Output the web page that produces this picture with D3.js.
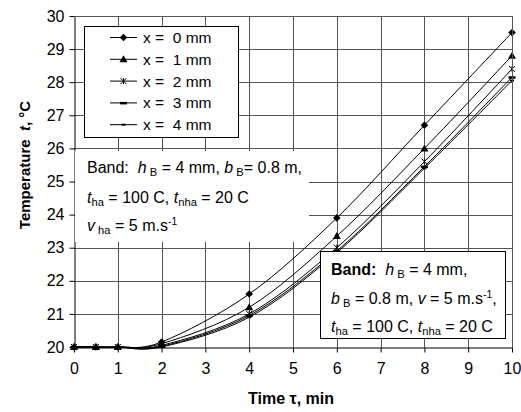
<!DOCTYPE html>
<html>
<head>
<meta charset="utf-8">
<script src="https://cdn.jsdelivr.net/npm/d3@7"></script>
<style>
  body { margin: 0; background: #fff; }
  svg { font-family: "Liberation Sans", Arial, sans-serif; }
</style>
</head>
<body>
<script>
// datos
const tiempos = [0, 0.5, 1, 2, 4, 6, 8, 10];
const x0mm = [20, 20, 20, 20.15, 21.6, 23.9, 26.7, 29.5];
const x1mm = [20, 20, 20, 20.1, 21.2, 23.35, 26.0, 28.8];
const x2mm = [20, 20, 20, 20.05, 21.0, 23.0, 25.6, 28.4];
const x3mm = [20, 20, 20, 20.02, 20.95, 22.9, 25.45, 28.15];
const x4mm = [20, 20, 20, 20.0, 20.9, 22.85, 25.4, 28.05];
const etiquetas = ['x =  0 mm', 'x =  1 mm', 'x =  2 mm', 'x =  3 mm', 'x =  4 mm'];
const marcadores = ['diamond', 'triangle', 'star', 'dash', 'dashSmall'];
const ticksX = [0, 1, 2, 3, 4, 5, 6, 7, 8, 9, 10];
const ticksY = [20, 21, 22, 23, 24, 25, 26, 27, 28, 29, 30];

const series = [x0mm, x1mm, x2mm, x3mm, x4mm];

const [w, h] = [521, 412];
const m = { left: 74, right: 512, top: 16, bottom: 347 };

const svg = d3.select('body').append('svg')
    .attr('width', w)
    .attr('height', h);

const xScale = d3.scaleLinear().domain([0, 10]).range([m.left, m.right]);
const yScale = d3.scaleLinear().domain([20, 30]).range([m.bottom, m.top]);

const gris = '#555';

// rejilla
svg.append('g').selectAll('line')
    .data(ticksX.slice(1))
    .enter().append('line')
    .attr('x1', d => Math.round(xScale(d)) + 0.5)
    .attr('x2', d => Math.round(xScale(d)) + 0.5)
    .attr('y1', m.top)
    .attr('y2', m.bottom)
    .attr('stroke', gris);

svg.append('g').selectAll('line')
    .data(ticksY.slice(1))
    .enter().append('line')
    .attr('y1', d => Math.round(yScale(d)) + 0.5)
    .attr('y2', d => Math.round(yScale(d)) + 0.5)
    .attr('x1', m.left)
    .attr('x2', m.right)
    .attr('stroke', gris);

// ejes
const ejeX = d3.axisBottom(xScale).tickValues(ticksX).tickSize(5).tickSizeOuter(0);
const gx = svg.append('g')
    .attr('transform', 'translate(0,' + (m.bottom + 0.5) + ')')
    .call(ejeX);
gx.attr('font-family', null);
gx.selectAll('text').attr('font-size', 16).attr('fill', '#000').attr('dy', '1.15em');

const ejeY = d3.axisLeft(yScale).tickValues(ticksY).tickSize(5).tickSizeOuter(0);
const gy = svg.append('g')
    .attr('transform', 'translate(' + (m.left + 0.5) + ',0)')
    .call(ejeY);
gy.attr('font-family', null);
gy.selectAll('text').attr('font-size', 16).attr('fill', '#000').attr('x', -10);

// caja blanca bajo el texto de la izquierda
svg.append('rect')
    .attr('x', m.left + 1).attr('y', 151)
    .attr('width', 234).attr('height', 91)
    .attr('fill', '#fff');

// curvas
const linea = d3.line()
    .x((d, i) => xScale(tiempos[i]))
    .y(d => yScale(d))
    .curve(d3.curveCardinal.tension(0));

svg.append('g').selectAll('path')
    .data(series)
    .enter().append('path')
    .attr('d', linea)
    .attr('fill', 'none')
    .attr('stroke', '#000')
    .attr('stroke-width', 1);

// marcadores
function dibujaMarcador(g, tipo, x, y) {
    if (tipo === 'diamond') {
        g.append('path').attr('d', `M${x},${y - 3.8}L${x + 3.8},${y}L${x},${y + 3.8}L${x - 3.8},${y}Z`).attr('fill', '#000');
    } else if (tipo === 'triangle') {
        g.append('path').attr('d', `M${x},${y - 4}L${x + 4},${y + 3}L${x - 4},${y + 3}Z`).attr('fill', '#000');
    } else if (tipo === 'star') {
        g.append('path').attr('d', `M${x - 3},${y - 3}L${x + 3},${y + 3}M${x - 3},${y + 3}L${x + 3},${y - 3}M${x},${y - 3}L${x},${y + 3}`)
            .attr('stroke', '#000').attr('stroke-width', 1);
    } else if (tipo === 'dash') {
        g.append('rect').attr('x', x - 3.5).attr('y', y - 1).attr('width', 7).attr('height', 2.5).attr('fill', '#000');
    } else {
        g.append('rect').attr('x', x - 2).attr('y', y - 1).attr('width', 4).attr('height', 2).attr('fill', '#000');
    }
}

const gm = svg.append('g');
series.forEach((s, k) => {
    s.forEach((v, i) => dibujaMarcador(gm, marcadores[k], xScale(tiempos[i]), yScale(v)));
});

// borde superior y derecho
svg.append('path')
    .attr('d', `M${m.left},${m.top + 0.5}H${m.right + 0.5}V${m.bottom}`)
    .attr('fill', 'none').attr('stroke', gris);

// leyenda
svg.append('rect')
    .attr('x', 84.5).attr('y', 26.5)
    .attr('width', 154).attr('height', 111)
    .attr('fill', '#fff').attr('stroke', '#000');

etiquetas.forEach((t, k) => {
    const y = 37.5 + k * 21.8;
    svg.append('line').attr('x1', 110).attr('x2', 137).attr('y1', y).attr('y2', y).attr('stroke', '#000');
    dibujaMarcador(svg, marcadores[k], 123.5, y);
    svg.append('text').attr('x', 143).attr('y', y + 5.5).attr('font-size', 15.5)
        .attr('xml:space', 'preserve').style('white-space', 'pre').text(t);
});

// texto con subindices
function linea_texto(x, y, partes, size) {
    const t = svg.append('text').attr('x', x).attr('y', y).attr('font-size', size)
        .attr('xml:space', 'preserve').style('white-space', 'pre');
    partes.forEach(p => {
        const ts = t.append('tspan').text(p.t);
        if (p.i) ts.attr('font-style', 'italic');
        if (p.b) ts.attr('font-weight', 'bold');
        if (p.sub) ts.attr('font-size', size * 0.7).attr('baseline-shift', '-30%');
        if (p.sup) ts.attr('font-size', size * 0.65).attr('baseline-shift', '60%');
    });
    return t;
}

linea_texto(87, 173, [{ t: 'Band:  ' }, { t: 'h', i: 1 }, { t: ' B', sub: 1 }, { t: ' = 4 mm, ' }, { t: 'b', i: 1 }, { t: ' B', sub: 1 }, { t: '= 0.8 m,' }], 16);
linea_texto(87, 203, [{ t: 't', i: 1 }, { t: 'ha', sub: 1 }, { t: ' = 100 C, ' }, { t: 't', i: 1 }, { t: 'nha', sub: 1 }, { t: ' = 20 C' }], 16);
linea_texto(87, 231, [{ t: 'v', i: 1 }, { t: ' ha', sub: 1 }, { t: ' = 5 m.s' }, { t: '-1', sup: 1 }], 16);

// caja de la derecha
svg.append('rect')
    .attr('x', 320.5).attr('y', 251.5)
    .attr('width', 185).attr('height', 87)
    .attr('fill', '#fff').attr('stroke', '#000');

linea_texto(331, 275, [{ t: 'Band:', b: 1 }, { t: '  ' }, { t: 'h', i: 1 }, { t: ' B', sub: 1 }, { t: ' = 4 mm,' }], 16);
linea_texto(331, 304, [{ t: 'b', i: 1 }, { t: ' B', sub: 1 }, { t: ' = 0.8 m, ' }, { t: 'v', i: 1 }, { t: ' = 5 m.s' }, { t: '-1', sup: 1 }, { t: ',' }], 16);
linea_texto(331, 332, [{ t: 't', i: 1 }, { t: 'ha', sub: 1 }, { t: ' = 100 C, ' }, { t: 't', i: 1 }, { t: 'nha', sub: 1 }, { t: ' = 20 C' }], 16);

// titulos de ejes
svg.append('text')
    .attr('x', 291).attr('y', 404)
    .attr('text-anchor', 'middle')
    .attr('font-size', 16).attr('font-weight', 'bold')
    .text('Time τ, min');

const ty = svg.append('text')
    .attr('transform', 'translate(30,165) rotate(-90)')
    .attr('text-anchor', 'middle')
    .attr('font-size', 15).attr('font-weight', 'bold')
    .attr('xml:space', 'preserve').style('white-space', 'pre');
ty.append('tspan').text('Temperature  ');
ty.append('tspan').attr('font-style', 'italic').text('t');
ty.append('tspan').text(', °C');
</script>
</body>
</html>
